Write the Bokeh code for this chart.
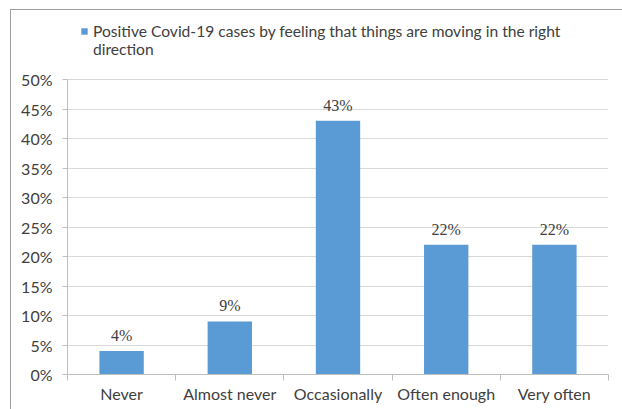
from bokeh.plotting import figure
from bokeh.models import (ColumnDataSource, FixedTicker, NumeralTickFormatter,
                          LabelSet, Legend, LegendItem, Range1d)
from bokeh.embed import file_html
from bokeh.resources import INLINE

# Survey categories and share of positive Covid-19 cases in each
categories = ["Never", "Almost never", "Occasionally", "Often enough", "Very often"]
shares = [0.04, 0.09, 0.43, 0.22, 0.22]
share_labels = ["4%", "9%", "43%", "22%", "22%"]
series_lines = ["Positive Covid-19 cases by feeling that things are moving in the right",
                "direction"]
y_ticks = [0.0, 0.05, 0.10, 0.15, 0.20, 0.25, 0.30, 0.35, 0.40, 0.45, 0.50]
y_max = 0.5

FONT = "Lato"
FS = "16px"
TEXT = "#404040"
BAR = "#5B9BD5"

# the frame runs up to the top of the chart so the legend can sit inside it;
# the value axis itself stops at y_max
AXIS_PX = 295
FRAME_PX = 364
centers = [i + 0.5 for i in range(len(categories))]
src = ColumnDataSource(dict(x=centers, top=shares, cat=categories, lab=share_labels))

p = figure(width=611, height=399, output_backend="svg", toolbar_location=None,
           x_range=Range1d(0, len(categories)),
           y_range=Range1d(0, y_max * FRAME_PX / AXIS_PX),
           min_border_left=56, min_border_right=14, min_border_top=0, min_border_bottom=35,
           frame_width=541, frame_height=FRAME_PX)
p.styles = {"margin-left": "10px", "margin-top": "9px",
            "border-left": "1px solid #9e9e9e", "border-top": "1px solid #9e9e9e"}
p.outline_line_color = None
p.background_fill_color = "white"
p.border_fill_color = "white"

bars = p.vbar(x="x", top="top", width=0.41, source=src, fill_color=BAR, line_color=None)

p.add_layout(LabelSet(x="x", y="top", text="lab", source=src, text_align="center",
                      text_baseline="bottom", y_offset=7, text_font=FONT,
                      text_font_size=FS, text_color=TEXT))

# y axis: percentages every 5 %
ya = p.yaxis[0]
ya.ticker = FixedTicker(ticks=y_ticks)
ya.bounds = (0, y_max)
ya.formatter = NumeralTickFormatter(format="0%")
ya.axis_line_color = "#bfbfbf"
ya.major_tick_line_color = "#bfbfbf"
ya.major_tick_out = 5
ya.major_tick_in = 0
ya.minor_tick_line_color = None
ya.major_label_text_font = FONT
ya.major_label_text_font_size = FS
ya.major_label_text_color = TEXT
ya.major_label_standoff = 10

# x axis: names at the bar centres, tick marks between categories
xa = p.xaxis[0]
xa.ticker = FixedTicker(ticks=centers, minor_ticks=list(range(len(categories) + 1)))
xa.major_label_overrides = {c: name for c, name in zip(centers, categories)}
xa.axis_line_color = "#bfbfbf"
xa.major_tick_line_color = None
xa.major_tick_out = 0
xa.major_tick_in = 0
xa.minor_tick_line_color = "#bfbfbf"
xa.minor_tick_out = 6
xa.minor_tick_in = 0
xa.major_label_text_font = FONT
xa.major_label_text_font_size = FS
xa.major_label_text_color = TEXT
xa.major_label_standoff = 3

p.xgrid.grid_line_color = None
p.ygrid.grid_line_color = "#d9d9d9"
p.ygrid.ticker = FixedTicker(ticks=y_ticks)

# series key: swatch beside the first line, the wrapped remainder below it
legend = Legend(items=[LegendItem(label=series_lines[0], renderers=[bars]),
                       LegendItem(label=series_lines[1], renderers=[])],
                location=(13, 316), padding=0, margin=0, spacing=0,
                glyph_width=8, glyph_height=8, label_standoff=5, label_height=17,
                label_text_font=FONT, label_text_font_size="15.6px",
                label_text_color=TEXT, border_line_color=None,
                background_fill_alpha=0)
p.add_layout(legend, "center")

open("out.html", "w").write(file_html(p, INLINE))
